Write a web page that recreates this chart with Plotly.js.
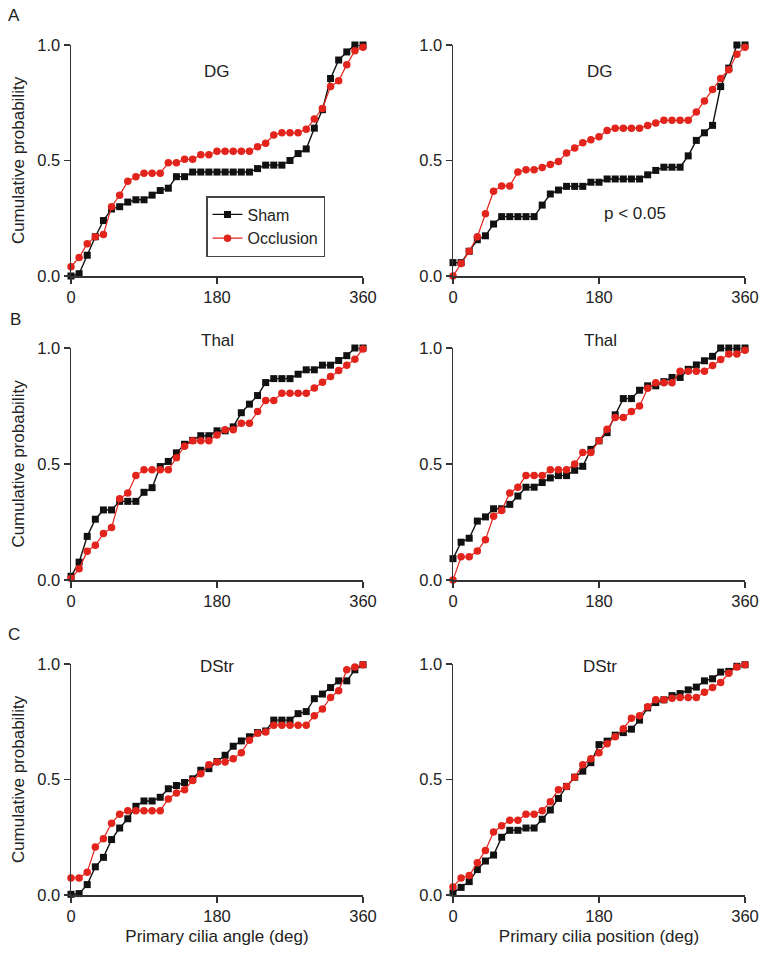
<!DOCTYPE html>
<html>
<head>
<meta charset="utf-8">
<script src="https://cdn.plot.ly/plotly-3.0.1.min.js"></script>
<style>
  body { margin: 0; background: #fff; }
  #plotArea { width: 768px; height: 956px; }
</style>
</head>
<body>
<div id="plotArea"></div>
<script>
// bin positions (deg), one point every 10 deg
var angles = [0, 10, 20, 30, 40, 50, 60, 70, 80, 90, 100, 110, 120, 130, 140, 150, 160, 170, 180,
              190, 200, 210, 220, 230, 240, 250, 260, 270, 280, 290, 300, 310, 320, 330, 340, 350, 360];
var xTicks = [0, 180, 360];
var yTicks = [0, 0.5, 1];

// A - DG
var dgAngleSham = [0, 0.01, 0.09, 0.17, 0.24, 0.29, 0.30, 0.32, 0.33, 0.33,
                   0.35, 0.37, 0.38, 0.43, 0.43, 0.45, 0.45, 0.45, 0.45, 0.45,
                   0.45, 0.45, 0.45, 0.465, 0.48, 0.48, 0.48, 0.50, 0.53, 0.55,
                   0.64, 0.72, 0.855, 0.935, 0.97, 1.0, 1.0];
var dgAngleOcc = [0.04, 0.08, 0.14, 0.17, 0.18, 0.30, 0.35, 0.41, 0.43, 0.445,
                  0.445, 0.445, 0.49, 0.49, 0.505, 0.505, 0.525, 0.525, 0.54, 0.54,
                  0.54, 0.54, 0.54, 0.56, 0.575, 0.61, 0.62, 0.62, 0.62, 0.635,
                  0.68, 0.725, 0.82, 0.845, 0.915, 0.975, 0.99];
var dgPosSham = [0.058, 0.058, 0.107, 0.157, 0.174, 0.225, 0.257, 0.257, 0.257, 0.257,
                 0.257, 0.307, 0.355, 0.372, 0.388, 0.388, 0.388, 0.406, 0.406, 0.42,
                 0.42, 0.42, 0.42, 0.42, 0.438, 0.457, 0.471, 0.471, 0.471, 0.52,
                 0.587, 0.62, 0.652, 0.82, 0.90, 1.0, 1.0];
var dgPosOcc = [0, 0.054, 0.107, 0.17, 0.27, 0.367, 0.39, 0.39, 0.45, 0.46,
                0.46, 0.47, 0.483, 0.496, 0.532, 0.554, 0.577, 0.59, 0.603, 0.63,
                0.64, 0.64, 0.64, 0.64, 0.652, 0.662, 0.674, 0.674, 0.674, 0.674,
                0.71, 0.758, 0.807, 0.855, 0.893, 0.96, 0.99];

// B - Thal
var thalAngleSham = [0.016, 0.077, 0.188, 0.262, 0.302, 0.302, 0.339, 0.339, 0.339, 0.378,
                     0.398, 0.489, 0.511, 0.548, 0.585, 0.602, 0.622, 0.622, 0.643, 0.643,
                     0.66, 0.721, 0.758, 0.795, 0.851, 0.868, 0.868, 0.868, 0.887, 0.906,
                     0.906, 0.926, 0.926, 0.946, 0.967, 1.0, 1.0];
var thalAngleOcc = [0.006, 0.048, 0.124, 0.15, 0.20, 0.226, 0.35, 0.375, 0.45, 0.475,
                    0.475, 0.475, 0.475, 0.527, 0.576, 0.60, 0.60, 0.60, 0.625, 0.648,
                    0.648, 0.676, 0.676, 0.726, 0.774, 0.774, 0.805, 0.805, 0.805, 0.805,
                    0.828, 0.852, 0.877, 0.903, 0.926, 0.952, 0.996];
var thalPosSham = [0.092, 0.163, 0.18, 0.254, 0.272, 0.307, 0.307, 0.326, 0.362, 0.40,
                   0.40, 0.42, 0.44, 0.45, 0.45, 0.473, 0.49, 0.563, 0.60, 0.635,
                   0.712, 0.782, 0.782, 0.818, 0.837, 0.837, 0.855, 0.873, 0.873, 0.908,
                   0.927, 0.945, 0.964, 1.0, 1.0, 1.0, 1.0];
var thalPosOcc = [0, 0.10, 0.10, 0.125, 0.174, 0.275, 0.30, 0.375, 0.40, 0.45,
                  0.45, 0.45, 0.475, 0.475, 0.475, 0.50, 0.55, 0.55, 0.60, 0.65,
                  0.70, 0.70, 0.726, 0.75, 0.826, 0.85, 0.85, 0.85, 0.90, 0.90,
                  0.90, 0.90, 0.925, 0.95, 0.974, 0.974, 0.99];

// C - DStr
var dstrAngleSham = [0.003, 0.006, 0.045, 0.122, 0.163, 0.24, 0.29, 0.33, 0.384, 0.407,
                     0.407, 0.423, 0.46, 0.474, 0.487, 0.503, 0.54, 0.547, 0.578, 0.605,
                     0.644, 0.667, 0.685, 0.703, 0.71, 0.757, 0.757, 0.757, 0.785, 0.794,
                     0.85, 0.87, 0.898, 0.927, 0.927, 0.975, 0.997];
var dstrAngleOcc = [0.074, 0.074, 0.099, 0.208, 0.244, 0.311, 0.35, 0.365, 0.365, 0.365,
                    0.365, 0.365, 0.416, 0.442, 0.456, 0.496, 0.525, 0.564, 0.576, 0.576,
                    0.59, 0.616, 0.67, 0.70, 0.706, 0.735, 0.735, 0.735, 0.735, 0.735,
                    0.776, 0.805, 0.855, 0.884, 0.975, 0.987, 0.997];
var dstrPosSham = [0.009, 0.033, 0.058, 0.11, 0.147, 0.173, 0.25, 0.28, 0.28, 0.29,
                   0.29, 0.328, 0.368, 0.418, 0.47, 0.51, 0.536, 0.573, 0.651, 0.666,
                   0.692, 0.703, 0.718, 0.757, 0.81, 0.833, 0.845, 0.863, 0.872, 0.888,
                   0.90, 0.927, 0.936, 0.965, 0.968, 0.99, 0.997];
var dstrPosOcc = [0.035, 0.074, 0.084, 0.14, 0.193, 0.273, 0.30, 0.324, 0.324, 0.35,
                  0.35, 0.365, 0.404, 0.456, 0.47, 0.51, 0.564, 0.59, 0.616, 0.655,
                  0.685, 0.72, 0.765, 0.776, 0.815, 0.845, 0.845, 0.852, 0.855, 0.855,
                  0.855, 0.878, 0.898, 0.92, 0.96, 0.987, 0.997];

var black = '#111111';
var red = '#e3241c';
var font = 'Liberation Sans, Arial, sans-serif';
var txt = '#222';

function pair(xa, ya, sham, occ, showLeg) {
  var t1 = {
    x: angles, y: sham, xaxis: xa, yaxis: ya,
    mode: 'markers+lines', type: 'scatter', name: 'Sham',
    showlegend: showLeg, cliponaxis: false,
    line: {color: black, width: 1.4},
    marker: {symbol: 'square', size: 7, color: black}
  };
  var t2 = {
    x: angles, y: occ, xaxis: xa, yaxis: ya,
    mode: 'markers+lines', type: 'scatter', name: 'Occlusion',
    showlegend: showLeg, cliponaxis: false,
    line: {color: red, width: 1.2},
    marker: {symbol: 'circle', size: 7.5, color: red}
  };
  return [t1, t2];
}

var data = [].concat(
  pair('x', 'y', dgAngleSham, dgAngleOcc, true),
  pair('x2', 'y2', dgPosSham, dgPosOcc, false),
  pair('x3', 'y3', thalAngleSham, thalAngleOcc, false),
  pair('x4', 'y4', thalPosSham, thalPosOcc, false),
  pair('x5', 'y5', dstrAngleSham, dstrAngleOcc, false),
  pair('x6', 'y6', dstrPosSham, dstrPosOcc, false)
);

function xax(dom, anchor, title) {
  var a = {
    domain: dom, anchor: anchor, range: [0, 360],
    tickvals: xTicks, ticks: 'outside', ticklen: 6, tickwidth: 1.5, tickcolor: '#333',
    showline: true, linecolor: '#333', linewidth: 1.5,
    showgrid: false, zeroline: false,
    tickfont: {family: font, size: 16.5, color: txt}
  };
  if (title) a.title = {text: title, standoff: 6, font: {family: font, size: 17, color: txt}};
  return a;
}

function yax(dom, anchor, title) {
  var a = {
    domain: dom, anchor: anchor, range: [0, 1],
    tickvals: yTicks, tickformat: '.1f', ticks: 'outside', ticklen: 6, tickwidth: 1.5, tickcolor: '#333',
    showline: true, linecolor: '#333', linewidth: 1.5,
    showgrid: false, zeroline: false,
    tickfont: {family: font, size: 16.5, color: txt}
  };
  if (title) a.title = {text: title, standoff: 8, font: {family: font, size: 17, color: txt}};
  return a;
}

var colL = [71 / 768, 363 / 768];
var colR = [453 / 768, 745 / 768];
var row1 = [1 - 276 / 956, 1 - 45 / 956];
var row2 = [1 - 580 / 956, 1 - 348 / 956];
var row3 = [1 - 895 / 956, 1 - 664 / 956];

function note(text, x, y) {
  return {text: text, xref: 'paper', yref: 'paper', x: x / 768, y: 1 - y / 956,
          xanchor: 'center', yanchor: 'middle',
          showarrow: false, font: {family: font, size: 17, color: txt}};
}

var layout = {
  width: 768, height: 956,
  margin: {l: 0, r: 0, t: 0, b: 0},
  paper_bgcolor: '#fff', plot_bgcolor: '#fff',
  showlegend: true,
  legend: {
    x: 206 / 768, y: 1 - 196 / 956, xanchor: 'left', yanchor: 'top',
    bordercolor: '#444', borderwidth: 1.5, bgcolor: '#fff',
    font: {family: font, size: 16, color: txt},
    itemwidth: 30, tracegroupgap: 0
  },
  xaxis: xax(colL, 'y'), yaxis: yax(row1, 'x', 'Cumulative probability'),
  xaxis2: xax(colR, 'y2'), yaxis2: yax(row1, 'x2'),
  xaxis3: xax(colL, 'y3'), yaxis3: yax(row2, 'x3', 'Cumulative probability'),
  xaxis4: xax(colR, 'y4'), yaxis4: yax(row2, 'x4'),
  xaxis5: xax(colL, 'y5', 'Primary cilia angle (deg)'), yaxis5: yax(row3, 'x5', 'Cumulative probability'),
  xaxis6: xax(colR, 'y6', 'Primary cilia position (deg)'), yaxis6: yax(row3, 'x6'),
  annotations: [
    note('A', 14, 15), note('B', 15, 319), note('C', 14, 634),
    note('DG', 217, 72), note('DG', 600, 72),
    note('Thal', 217, 340), note('Thal', 600, 340),
    note('DStr', 217, 666), note('DStr', 600, 666),
    note('p &lt; 0.05', 635, 213)
  ]
};

Plotly.newPlot('plotArea', data, layout, {staticPlot: true});
</script>
</body>
</html>
